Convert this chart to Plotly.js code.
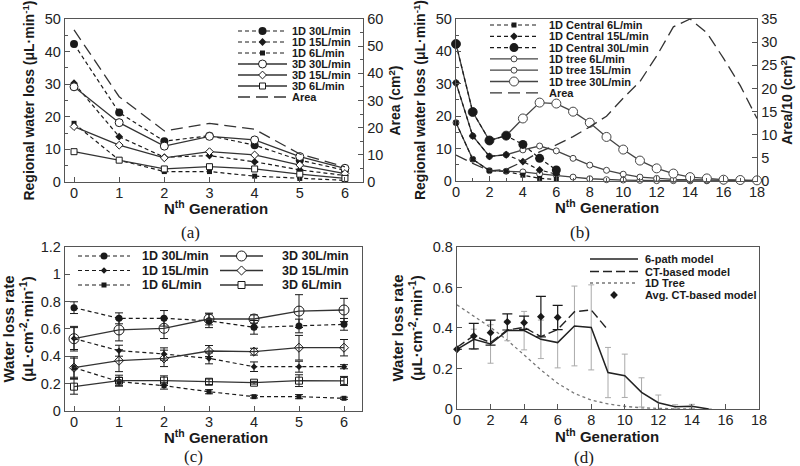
<!DOCTYPE html>
<html><head><meta charset="utf-8">
<script src="https://cdn.plot.ly/plotly-3.0.1.min.js"></script>
<style>html,body{margin:0;padding:0;background:#fff}#chart{width:800px;height:466px}</style>
</head><body><div id="chart"></div>
<script>
// ---------------- data ----------------
// (a) regional water loss, 6-path model
const genA = [0, 1, 2, 3, 4, 5, 6];
const a1D30 = [42.3, 21.3, 12.5, 14.2, 11.3, 6.7, 3.6];
const a1D15 = [30.3, 13.9, 7.6, 8.1, 6.2, 3.7, 2.0];
const a1D6  = [18.0, 6.7, 3.2, 3.2, 1.8, 1.1, 0.5];
const a3D30 = [29.2, 18.2, 11.0, 14.0, 12.9, 7.8, 4.2];
const a3D15 = [17.0, 11.3, 7.4, 9.3, 8.3, 5.2, 2.6];
const a3D6  = [9.3, 6.7, 4.0, 4.7, 4.0, 2.4, 1.1];
const aArea = [56, 31.4, 18.8, 21.6, 19.4, 10.3, 5.6];

// (b) 1D central path vs 1D tree
const genBc = [0, 1, 2, 3, 4, 5, 6];
const bCen6  = [18.0, 6.7, 3.2, 3.0, 1.8, 0.8, 0.5];
const bCen15 = [30.3, 13.9, 7.6, 8.1, 6.0, 3.4, 2.1];
const bCen30 = [42.3, 21.3, 12.5, 14.0, 11.3, 7.0, 3.4];
const genBt = [0, 1, 2, 3, 4, 5, 6, 7, 8, 9, 10, 11, 12, 13, 14, 15, 16, 17, 18];
const bTree6  = [18.0, 6.7, 3.2, 3.0, 2.8, 2.2, 1.8, 1.2, 0.7, 0.4, 0.3, 0.2, 0.1, 0.1, 0.05, 0.05, 0, 0, 0];
const bTree15 = [30.3, 13.9, 7.6, 8.1, 9.6, 10.8, 9.3, 7.0, 4.9, 3.3, 2.1, 1.2, 0.8, 0.5, 0.4, 0.3, 0.2, 0.1, 0.1];
const bTree30 = [42.3, 21.3, 12.5, 14.0, 19.3, 24.2, 23.9, 21.4, 18.0, 13.6, 9.7, 6.3, 3.9, 2.3, 1.2, 0.8, 0.4, 0.3, 0.2];
const bArea10 = [5.6, 3.8, 2.2, 2.5, 4.2, 6.3, 7.8, 9.6, 11.7, 14.0, 17.9, 21.5, 27.0, 33.3, 35.0, 32.0, 26.5, 20.6, 13.5];

// (c) water loss rate, 1D vs 3D
const genC = [0, 1, 2, 3, 4, 5, 6];
const c1D30 = [0.756, 0.678, 0.678, 0.660, 0.612, 0.622, 0.634];
const c1D30e = [0.043, 0.040, 0.057, 0.050, 0.050, 0.050, 0.043];
const c1D15 = [0.530, 0.441, 0.417, 0.385, 0.324, 0.324, 0.324];
const c1D15e = [0.080, 0.040, 0.045, 0.040, 0.035, 0.040, 0.015];
const c1D6 = [0.317, 0.215, 0.185, 0.141, 0.105, 0.105, 0.093];
const c1D6e = [0.070, 0.030, 0.025, 0.015, 0.010, 0.015, 0.008];
const c3D30 = [0.529, 0.593, 0.605, 0.673, 0.673, 0.731, 0.739];
const c3D30e = [0.090, 0.080, 0.075, 0.043, 0.030, 0.120, 0.085];
const c3D15 = [0.317, 0.368, 0.385, 0.439, 0.434, 0.463, 0.463];
const c3D15e = [0.080, 0.080, 0.060, 0.040, 0.025, 0.090, 0.060];
const c3D6 = [0.178, 0.222, 0.222, 0.214, 0.207, 0.222, 0.220];
const c3D6e = [0.055, 0.040, 0.035, 0.020, 0.010, 0.043, 0.033];

// (d) model comparison
const genD6 = [0, 1, 2, 3, 4, 5, 6, 7, 8, 9, 10, 11, 12, 13, 14, 15];
const d6path = [0.295, 0.344, 0.321, 0.387, 0.387, 0.344, 0.328, 0.410, 0.403, 0.180, 0.164, 0.082, 0.031, 0.011, 0.013, 0];
const d6pathE = [0, 0.05, 0.095, 0.05, 0.095, 0.095, 0.125, 0.197, 0.21, 0.124, 0.107, 0.072, 0.038, 0.01, 0.01, 0];
const genDct = [0, 1, 2, 3, 4, 5, 6, 7, 8, 9];
const dCT = [0.305, 0.362, 0.328, 0.390, 0.403, 0.357, 0.393, 0.480, 0.489, 0.390];
const genDtree = [0, 1, 2, 3, 4, 5, 6, 7, 8, 9, 10, 11, 12, 13, 14];
const dTree = [0.514, 0.459, 0.403, 0.340, 0.267, 0.193, 0.127, 0.077, 0.044, 0.025, 0.013, 0.006, 0.003, 0.001, 0];
const genDavg = [0, 1, 2, 3, 4, 5, 6];
const dAvg = [0.295, 0.360, 0.377, 0.430, 0.426, 0.456, 0.452];
const dAvgE = [0, 0.063, 0.062, 0.040, 0.033, 0.100, 0.060];

// ---------------- styling ----------------
const F = 'Liberation Sans, Arial, sans-serif';
const FRAME = '#555';
const INK = '#1a1a1a';
const W = 800, H = 466;

function ax(extra) {
  return Object.assign({
    showline: true, linecolor: FRAME, linewidth: 1.3, mirror: true,
    ticks: 'inside', ticklen: 5, tickwidth: 1, tickcolor: FRAME,
    showgrid: false, zeroline: false,
    tickfont: {family: F, size: 14.5, color: '#222'}
  }, extra);
}
function xax(extra) { return ax(Object.assign({ticklabelstandoff: -3}, extra)); }
function ttl(text, size, standoff) {
  return {text: text, font: {family: F, size: size, color: INK, weight: 'bold'}, standoff: standoff};
}
const GEN = 'N<sup>th</sup> Generation';

const DASH = '4px,3px';
const LDASH = '12px,6px';
function filled(sym, size) { return {symbol: sym, size: size, color: INK, line: {width: 0}}; }
function open(sym, size, col) { return {symbol: sym, size: size, color: '#fff', line: {width: 1, color: col || INK}}; }

const traces = [];
function tr(o) { o.showlegend = false; o.cliponaxis = false; traces.push(o); }

// ---- (a)
tr({x: genA, y: aArea, xaxis: 'x', yaxis: 'y2', mode: 'lines', line: {color: '#333', width: 1.3, dash: LDASH}});
tr({x: genA, y: a1D30, xaxis: 'x', yaxis: 'y', mode: 'lines+markers', line: {color: INK, width: 1.2, dash: DASH}, marker: filled('circle', 8)});
tr({x: genA, y: a1D15, xaxis: 'x', yaxis: 'y', mode: 'lines+markers', line: {color: INK, width: 1.2, dash: DASH}, marker: filled('diamond', 6)});
tr({x: genA, y: a1D6, xaxis: 'x', yaxis: 'y', mode: 'lines+markers', line: {color: INK, width: 1.2, dash: DASH}, marker: filled('square', 5)});
tr({x: genA, y: a3D30, xaxis: 'x', yaxis: 'y', mode: 'lines+markers', line: {color: '#333', width: 1.3}, marker: open('circle', 8)});
tr({x: genA, y: a3D15, xaxis: 'x', yaxis: 'y', mode: 'lines+markers', line: {color: '#333', width: 1.3}, marker: open('diamond', 6)});
tr({x: genA, y: a3D6, xaxis: 'x', yaxis: 'y', mode: 'lines+markers', line: {color: '#333', width: 1.3}, marker: open('square', 6)});

// ---- (b)
tr({x: genBt, y: bArea10, xaxis: 'x2', yaxis: 'y4', mode: 'lines', line: {color: '#333', width: 1.3, dash: LDASH}});
tr({x: genBt, y: bTree6, xaxis: 'x2', yaxis: 'y3', mode: 'lines+markers', line: {color: '#444', width: 1.3}, marker: open('circle', 6, '#444')});
tr({x: genBt, y: bTree15, xaxis: 'x2', yaxis: 'y3', mode: 'lines+markers', line: {color: '#444', width: 1.3}, marker: open('circle', 6, '#444')});
tr({x: genBt, y: bTree30, xaxis: 'x2', yaxis: 'y3', mode: 'lines+markers', line: {color: '#444', width: 1.3}, marker: open('circle', 9, '#444')});
tr({x: genBc, y: bCen6, xaxis: 'x2', yaxis: 'y3', mode: 'lines+markers', line: {color: INK, width: 1.2, dash: DASH}, marker: filled('square', 5)});
tr({x: genBc, y: bCen15, xaxis: 'x2', yaxis: 'y3', mode: 'lines+markers', line: {color: INK, width: 1.2, dash: DASH}, marker: filled('diamond', 6)});
tr({x: genBc, y: bCen30, xaxis: 'x2', yaxis: 'y3', mode: 'lines+markers', line: {color: INK, width: 1.2, dash: DASH}, marker: filled('circle', 9)});

// ---- (c)
function eb(arr) { return {type: 'data', array: arr, visible: true, color: INK, thickness: 1, width: 4}; }
tr({x: genC, y: c1D30, error_y: eb(c1D30e), xaxis: 'x3', yaxis: 'y5', mode: 'lines+markers', line: {color: INK, width: 1.2, dash: DASH}, marker: filled('circle', 7)});
tr({x: genC, y: c1D15, error_y: eb(c1D15e), xaxis: 'x3', yaxis: 'y5', mode: 'lines+markers', line: {color: INK, width: 1.2, dash: DASH}, marker: filled('diamond', 5)});
tr({x: genC, y: c1D6, error_y: eb(c1D6e), xaxis: 'x3', yaxis: 'y5', mode: 'lines+markers', line: {color: INK, width: 1.2, dash: DASH}, marker: filled('square', 5)});
tr({x: genC, y: c3D30, error_y: eb(c3D30e), xaxis: 'x3', yaxis: 'y5', mode: 'lines+markers', line: {color: '#333', width: 1.3}, marker: {symbol: 'circle', size: 10, color: 'rgba(255,255,255,0)', line: {width: 1, color: INK}}});
tr({x: genC, y: c3D15, error_y: eb(c3D15e), xaxis: 'x3', yaxis: 'y5', mode: 'lines+markers', line: {color: '#333', width: 1.3}, marker: {symbol: 'diamond', size: 7, color: 'rgba(255,255,255,0)', line: {width: 1, color: INK}}});
tr({x: genC, y: c3D6, error_y: eb(c3D6e), xaxis: 'x3', yaxis: 'y5', mode: 'lines+markers', line: {color: '#333', width: 1.3}, marker: {symbol: 'square', size: 7, color: 'rgba(255,255,255,0)', line: {width: 1, color: INK}}});

// ---- (d)
tr({x: genDtree, y: dTree, xaxis: 'x4', yaxis: 'y6', mode: 'lines', line: {color: '#777', width: 1.3, dash: 'dot'}});
tr({x: genD6, y: d6path, error_y: {type: 'data', array: d6pathE, visible: true, color: '#aaa', thickness: 1, width: 3}, xaxis: 'x4', yaxis: 'y6', mode: 'lines', line: {color: '#222', width: 1.5}});
tr({x: genDct, y: dCT, xaxis: 'x4', yaxis: 'y6', mode: 'lines', line: {color: '#222', width: 1.4, dash: '9px,4px'}});
tr({x: genDavg, y: dAvg, error_y: {type: 'data', array: dAvgE, visible: true, color: INK, thickness: 1.2, width: 5}, xaxis: 'x4', yaxis: 'y6', mode: 'markers', marker: filled('diamond', 6)});

// ---------------- hand-drawn legend keys (pixel overlay axes) ----------------
const annotations = [];
function key(o) {
  if (o.line) traces.push({x: [o.x0, o.x1], y: [o.y, o.y], xaxis: 'x5', yaxis: 'y7', mode: 'lines', line: o.line, showlegend: false, hoverinfo: 'skip'});
  if (o.marker) traces.push({x: [(o.x0 + o.x1) / 2], y: [o.y], xaxis: 'x5', yaxis: 'y7', mode: 'markers', marker: o.marker, showlegend: false, hoverinfo: 'skip', cliponaxis: false});
  annotations.push({xref: 'paper', yref: 'paper', x: o.tx / W, y: 1 - o.y / H, xanchor: 'left', yanchor: 'middle',
    text: o.text, showarrow: false, font: {family: F, size: o.fs || 11, color: INK, weight: 'bold'}});
}
const dashL = {color: INK, width: 1.2, dash: DASH};
const solL = {color: '#333', width: 1.3};
const areaL = {color: '#333', width: 1.3, dash: LDASH};
// (a)
const aRows = ['1D 30L/min', '1D 15L/min', '1D 6L/min', '3D 30L/min', '3D 15L/min', '3D 6L/min', 'Area'];
const aLines = [dashL, dashL, dashL, solL, solL, solL, areaL];
const aMk = [filled('circle', 8), filled('diamond', 6), filled('square', 5), open('circle', 8), open('diamond', 6), open('square', 6), null];
aRows.forEach((t, i) => key({x0: 238, x1: 287, y: 31 + i * 11, line: aLines[i], marker: aMk[i], text: t, tx: 290}));
// (b)
const bRows = ['1D Central 6L/min', '1D Central 15L/min', '1D Central 30L/min', '1D tree 6L/min', '1D tree 15L/min', '1D tree 30L/min', 'Area'];
const treeL = {color: '#444', width: 1.3};
const bLines = [dashL, dashL, dashL, treeL, treeL, treeL, areaL];
const bMk = [filled('square', 5), filled('diamond', 6), filled('circle', 9), open('circle', 6, '#444'), open('circle', 6, '#444'), open('circle', 9, '#444'), null];
bRows.forEach((t, i) => key({x0: 490, x1: 538, y: 25 + i * 11.3, line: bLines[i], marker: bMk[i], text: t, tx: 547}));
// (c)
const cRows1 = ['1D 30L/min', '1D 15L/min', '1D 6L/min'];
const cMk1 = [filled('circle', 7), filled('diamond', 5), filled('square', 5)];
cRows1.forEach((t, i) => key({x0: 78, x1: 130, y: 256 + i * 14.5, line: dashL, marker: cMk1[i], text: t, tx: 140, fs: 12.5}));
const cRows2 = ['3D 30L/min', '3D 15L/min', '3D 6L/min'];
const cMk2 = [open('circle', 10), open('diamond', 7), open('square', 7)];
cRows2.forEach((t, i) => key({x0: 220, x1: 263, y: 256 + i * 14.5, line: solL, marker: cMk2[i], text: t, tx: 280, fs: 12.5}));
// (d)
key({x0: 590, x1: 638, y: 259, line: {color: '#222', width: 1.5}, text: '6-path model', tx: 643});
key({x0: 590, x1: 638, y: 271.5, line: {color: '#222', width: 1.4, dash: '9px,4px'}, text: 'CT-based model', tx: 643});
key({x0: 590, x1: 638, y: 283, line: {color: '#777', width: 1.3, dash: 'dot'}, text: '1D Tree', tx: 643});
key({x0: 590, x1: 638, y: 295, marker: filled('diamond', 6), text: 'Avg. CT-based model', tx: 643});

// x-axis titles (placed precisely under each panel)
[[216, 207], [607, 206], [216, 436], [607, 435]].forEach(p => {
  annotations.push({xref: 'paper', yref: 'paper', x: p[0] / W, y: 1 - p[1] / H, xanchor: 'center', yanchor: 'middle',
    text: GEN, showarrow: false, font: {family: F, size: 15, color: INK, weight: 'bold'}});
});

// captions
[['(a)', 190, 232], ['(b)', 580, 232], ['(c)', 193, 456], ['(d)', 584, 457]].forEach(c => {
  annotations.push({xref: 'paper', yref: 'paper', x: c[1] / W, y: 1 - c[2] / H, xanchor: 'center', yanchor: 'middle',
    text: c[0], showarrow: false, font: {family: 'Liberation Serif, Times New Roman, serif', size: 17, color: INK}});
});

const layout = {
  width: W, height: H, margin: {l: 0, r: 0, t: 0, b: 0},
  paper_bgcolor: '#fff', plot_bgcolor: 'rgba(0,0,0,0)', showlegend: false,
  // (a)
  xaxis: xax({domain: [0.08125, 0.45375], anchor: 'y', range: [-0.2, 6.4], tick0: 0, dtick: 1}),
  yaxis: ax({domain: [0.60944, 0.95923], anchor: 'x', range: [0, 50], dtick: 10,
    minor: {dtick: 5, ticks: 'inside', ticklen: 3, tickcolor: FRAME},
    title: ttl('Regional water loss (μL·min<sup>-1</sup>)', 14, 6)}),
  yaxis2: ax({overlaying: 'y', side: 'right', anchor: 'x', range: [0, 60], dtick: 10, mirror: false,
    minor: {dtick: 5, ticks: 'inside', ticklen: 3, tickcolor: FRAME},
    title: ttl('Area (cm<sup>2</sup>)', 14, 8)}),
  // (b)
  xaxis2: xax({domain: [0.57, 0.94625], anchor: 'y3', range: [0, 18], dtick: 2,
    minor: {dtick: 1, ticks: 'inside', ticklen: 3, tickcolor: FRAME}}),
  yaxis3: ax({domain: [0.61159, 0.95923], anchor: 'x2', range: [0, 50], dtick: 10,
    minor: {dtick: 5, ticks: 'inside', ticklen: 3, tickcolor: FRAME},
    title: ttl('Regional water loss (μL·min<sup>-1</sup>)', 14, 6)}),
  yaxis4: ax({overlaying: 'y3', side: 'right', anchor: 'x2', range: [0, 35], dtick: 5, mirror: false,
    title: ttl('Area/10 (cm<sup>2</sup>)', 14, 6)}),
  // (c)
  xaxis3: xax({domain: [0.08125, 0.4525], anchor: 'y5', range: [-0.2, 6.4], tick0: 0, dtick: 1}),
  yaxis5: ax({domain: [0.11803, 0.47], anchor: 'x3', range: [0, 1.2], dtick: 0.2,
    title: ttl('Water loss rate<br>(μL·cm<sup>-2</sup>·min<sup>-1</sup>)', 15, 4)}),
  // (d)
  xaxis4: xax({domain: [0.57125, 0.94875], anchor: 'y6', range: [0, 18], dtick: 2}),
  yaxis6: ax({domain: [0.12232, 0.47], anchor: 'x4', range: [0, 0.8], dtick: 0.2,
    title: ttl('Water loss rate<br>(μL·cm<sup>-2</sup>·min<sup>-1</sup>)', 15, 6)}),
  // pixel overlay for legend keys
  xaxis5: {domain: [0, 1], range: [0, W], visible: false, anchor: 'y7', fixedrange: true},
  yaxis7: {domain: [0, 1], range: [H, 0], visible: false, anchor: 'x5', fixedrange: true},
  annotations: annotations
};

Plotly.newPlot('chart', traces, layout, {displayModeBar: false, staticPlot: true});
</script>
</body></html>
